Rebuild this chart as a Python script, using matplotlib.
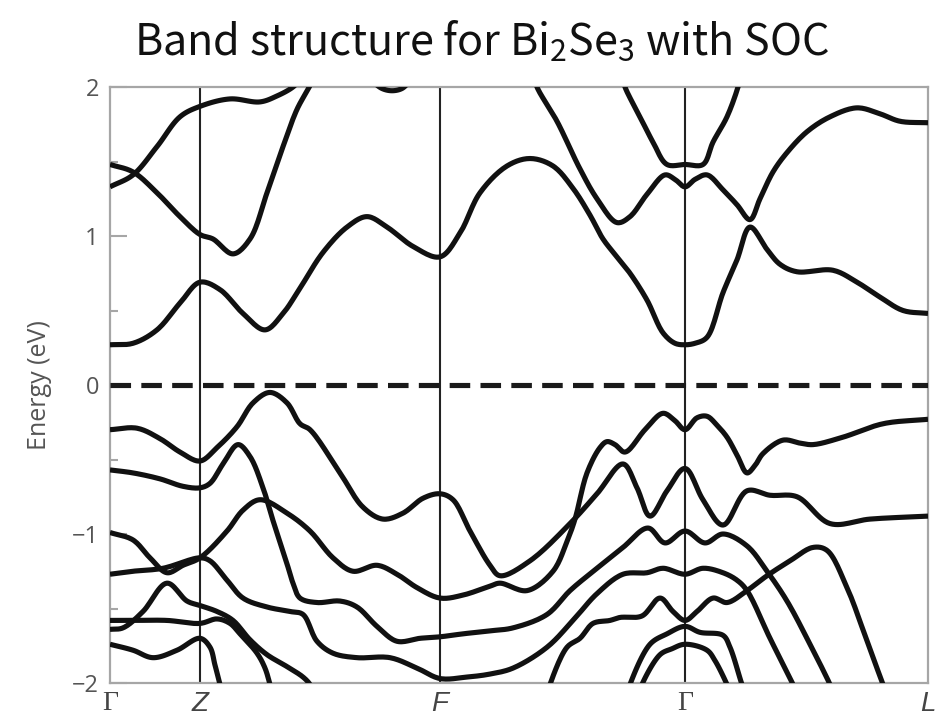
import numpy as np
import matplotlib
matplotlib.use("Agg")
import matplotlib.pyplot as plt

# ---------------- data (k along path, energy in eV) ----------------
kpoint_pos = [0.0, 0.9, 3.3, 5.75, 8.18]
kpoint_labels = ["Γ", "Z", "F", "Γ", "L"]
y_ticks = [-2, -1, 0, 1, 2]
y_tick_labels = ["−2", "−1", "0", "1", "2"]
y_minor = [-1.5, -0.5, 0.5, 1.5]

# conduction bands
c1 = [(0, 0.27), (0.23, 0.28), (0.47, 0.37), (0.70, 0.55), (0.90, 0.69), (1.10, 0.64), (1.33, 0.48),
      (1.55, 0.37), (1.73, 0.48), (1.90, 0.65), (2.13, 0.89), (2.37, 1.06), (2.57, 1.13), (2.77, 1.06),
      (3.03, 0.93), (3.30, 0.86), (3.50, 1.02), (3.70, 1.29), (3.97, 1.47), (4.20, 1.52), (4.43, 1.47),
      (4.63, 1.32), (4.80, 1.14), (4.93, 0.98), (5.07, 0.86), (5.20, 0.75), (5.37, 0.57), (5.53, 0.35),
      (5.65, 0.28), (5.75, 0.27), (5.85, 0.28), (5.97, 0.32), (6.13, 0.62), (6.27, 0.84), (6.40, 1.06),
      (6.57, 0.91), (6.70, 0.81), (6.87, 0.76), (7.23, 0.77), (7.47, 0.69), (7.70, 0.59), (7.93, 0.50),
      (8.18, 0.48)]
c2 = [(0, 1.48), (0.23, 1.43), (0.47, 1.29), (0.70, 1.13), (0.90, 1.01), (1.03, 0.98), (1.23, 0.88),
      (1.40, 0.98), (1.57, 1.29), (1.73, 1.60), (1.87, 1.85), (2.00, 2.01), (2.03, 2.06)]
c3 = [(0, 1.33), (0.23, 1.41), (0.47, 1.60), (0.70, 1.80), (0.90, 1.87), (1.20, 1.92), (1.50, 1.90),
      (1.67, 1.94), (1.83, 2.00), (1.90, 2.05)]
c4 = [(2.62, 2.04), (2.72, 1.99), (2.82, 1.975), (2.92, 1.99), (3.00, 2.04)]
c5 = [(4.25, 2.06), (4.27, 2.00), (4.47, 1.77), (4.70, 1.45), (4.87, 1.25), (5.07, 1.09), (5.20, 1.13),
      (5.37, 1.28), (5.55, 1.41), (5.65, 1.38), (5.75, 1.33), (5.85, 1.38), (5.97, 1.41), (6.13, 1.31),
      (6.27, 1.21), (6.40, 1.11), (6.50, 1.25), (6.63, 1.43), (6.77, 1.56), (6.97, 1.70), (7.20, 1.80),
      (7.47, 1.86), (7.70, 1.82), (7.90, 1.77), (8.18, 1.76)]
c6 = [(5.13, 2.06), (5.15, 2.00), (5.30, 1.80), (5.43, 1.63), (5.57, 1.48), (5.75, 1.48), (5.93, 1.48),
      (6.03, 1.63), (6.17, 1.80), (6.28, 2.00), (6.30, 2.06)]

# valence bands
v1 = [(0, -0.30), (0.27, -0.29), (0.50, -0.36), (0.70, -0.45), (0.90, -0.51), (1.07, -0.42), (1.27, -0.28),
      (1.43, -0.12), (1.60, -0.05), (1.77, -0.12), (1.90, -0.26), (2.00, -0.30), (2.30, -0.59), (2.53, -0.82),
      (2.73, -0.90), (2.93, -0.86), (3.13, -0.76), (3.30, -0.73), (3.43, -0.77), (3.60, -0.98), (3.80, -1.21),
      (3.90, -1.28), (4.20, -1.18), (4.60, -0.93), (4.87, -0.73), (5.13, -0.53), (5.27, -0.69), (5.40, -0.88),
      (5.57, -0.71), (5.75, -0.56), (5.93, -0.77), (6.13, -0.94), (6.37, -0.71), (6.60, -0.74), (6.87, -0.75),
      (7.20, -0.93), (7.60, -0.90), (8.18, -0.88)]
v2 = [(0, -0.57), (0.23, -0.59), (0.50, -0.63), (0.73, -0.68), (0.90, -0.69), (1.00, -0.66), (1.13, -0.53),
      (1.28, -0.40), (1.40, -0.48), (1.53, -0.69), (1.63, -0.91), (1.77, -1.20), (1.83, -1.33), (1.90, -1.43),
      (2.07, -1.46), (2.30, -1.45), (2.47, -1.49), (2.67, -1.62), (2.87, -1.72), (3.10, -1.70), (3.30, -1.69),
      (3.53, -1.67), (3.80, -1.65), (4.03, -1.63), (4.37, -1.54), (4.60, -1.38), (4.87, -1.23), (5.13, -1.09),
      (5.38, -0.96), (5.55, -1.06), (5.75, -0.98), (5.95, -1.06), (6.13, -1.00), (6.37, -1.08), (6.57, -1.25),
      (6.77, -1.45), (7.00, -1.74), (7.20, -2.01), (7.23, -2.06)]
v3 = [(0, -0.99), (0.23, -1.04), (0.40, -1.16), (0.57, -1.26), (0.73, -1.21), (0.90, -1.16), (1.17, -0.98),
      (1.33, -0.84), (1.50, -0.77), (1.77, -0.86), (2.00, -0.98), (2.23, -1.16), (2.43, -1.25), (2.67, -1.21),
      (2.87, -1.27), (3.07, -1.36), (3.30, -1.43), (3.53, -1.41), (3.80, -1.35), (3.90, -1.33), (4.17, -1.38),
      (4.43, -1.25), (4.57, -1.05), (4.65, -0.90), (4.77, -0.59), (4.90, -0.42), (4.97, -0.38), (5.05, -0.40),
      (5.15, -0.45), (5.35, -0.30), (5.53, -0.19), (5.65, -0.24), (5.75, -0.30), (5.87, -0.22), (5.97, -0.21),
      (6.07, -0.27), (6.17, -0.35), (6.27, -0.47), (6.37, -0.59), (6.45, -0.54), (6.53, -0.46), (6.73, -0.37),
      (6.90, -0.39), (7.03, -0.40), (7.33, -0.35), (7.73, -0.26), (8.18, -0.23)]
v4 = [(0, -1.27), (0.23, -1.25), (0.53, -1.23), (0.90, -1.16), (1.00, -1.18), (1.17, -1.31), (1.33, -1.43),
      (1.57, -1.49), (1.80, -1.52), (1.93, -1.54), (2.07, -1.72), (2.23, -1.80), (2.47, -1.83), (2.80, -1.83),
      (3.07, -1.90), (3.30, -1.97), (3.57, -1.96), (3.80, -1.94), (4.03, -1.90), (4.37, -1.76), (4.63, -1.58),
      (4.87, -1.40), (5.13, -1.27), (5.37, -1.26), (5.53, -1.23), (5.75, -1.27), (5.93, -1.23), (6.13, -1.26),
      (6.27, -1.31), (6.37, -1.38), (6.60, -1.70), (6.83, -2.01), (6.86, -2.06)]
v5 = [(0, -1.64), (0.13, -1.63), (0.33, -1.52), (0.57, -1.33), (0.77, -1.45), (0.90, -1.48), (1.07, -1.52),
      (1.23, -1.58), (1.40, -1.71), (1.57, -1.81), (1.77, -1.89), (1.93, -1.96), (2.00, -2.01), (2.03, -2.06)]
v6 = [(0, -1.58), (0.23, -1.58), (0.57, -1.58), (0.90, -1.60), (1.07, -1.57), (1.20, -1.60), (1.30, -1.67),
      (1.47, -1.80), (1.55, -1.90), (1.60, -2.01), (1.62, -2.06)]
v7 = [(0, -1.74), (0.23, -1.78), (0.43, -1.83), (0.67, -1.78), (0.90, -1.70), (1.00, -1.76), (1.05, -1.88),
      (1.10, -2.01), (1.12, -2.06)]
v8 = [(4.38, -2.06), (4.40, -2.01), (4.57, -1.76), (4.70, -1.70), (4.83, -1.60), (5.00, -1.58), (5.10, -1.56),
      (5.32, -1.55), (5.50, -1.43), (5.63, -1.52), (5.75, -1.58), (5.87, -1.52), (6.03, -1.43), (6.17, -1.46),
      (6.37, -1.38), (6.57, -1.28), (6.80, -1.18), (7.03, -1.09), (7.17, -1.11), (7.37, -1.36), (7.55, -1.68),
      (7.73, -2.01), (7.76, -2.06)]
v9 = [(5.18, -2.06), (5.20, -2.01), (5.40, -1.74), (5.57, -1.67), (5.75, -1.62), (5.90, -1.66), (6.13, -1.68),
      (6.20, -1.76), (6.32, -2.01), (6.35, -2.06)]
v10 = [(5.30, -2.06), (5.32, -2.01), (5.50, -1.81), (5.62, -1.77), (5.75, -1.74), (5.97, -1.78), (6.05, -1.85),
       (6.17, -2.01), (6.20, -2.06)]

bands = [c1, c2, c3, c4, c5, c6, v1, v2, v3, v4, v5, v6, v7, v8, v9, v10]


def smooth_curve(pts, n=14, alpha=0.5):
    """Centripetal Catmull-Rom rendering of a band through its read points."""
    sc = np.array([100.0, 148.5])
    P = np.asarray(pts, float) * sc
    P = np.vstack([2 * P[0] - P[1], P, 2 * P[-1] - P[-2]])
    out = []
    for i in range(len(P) - 3):
        p0, p1, p2, p3 = P[i:i + 4]
        t0 = 0.0
        t1 = t0 + np.linalg.norm(p1 - p0) ** alpha
        t2 = t1 + np.linalg.norm(p2 - p1) ** alpha
        t3 = t2 + np.linalg.norm(p3 - p2) ** alpha
        t = np.linspace(t1, t2, n, endpoint=False)[:, None]
        A1 = (t1 - t) / (t1 - t0) * p0 + (t - t0) / (t1 - t0) * p1
        A2 = (t2 - t) / (t2 - t1) * p1 + (t - t1) / (t2 - t1) * p2
        A3 = (t3 - t) / (t3 - t2) * p2 + (t - t2) / (t3 - t2) * p3
        B1 = (t2 - t) / (t2 - t0) * A1 + (t - t0) / (t2 - t0) * A2
        B2 = (t3 - t) / (t3 - t1) * A2 + (t - t1) / (t3 - t1) * A3
        out.append((t2 - t) / (t2 - t1) * B1 + (t - t1) / (t2 - t1) * B2)
    out.append(P[-2][None, :])
    Q = np.vstack(out) / sc
    return Q[:, 0], Q[:, 1]


fig = plt.figure(figsize=(9.51, 7.21), dpi=100)
ax = fig.add_axes([110 / 951, 38 / 721, 818 / 951, 596 / 721])

for b in bands:
    x, y = smooth_curve(b)
    ax.plot(x, y, color="#111111", lw=3.7, solid_capstyle="butt", solid_joinstyle="round", zorder=3)

for xv in kpoint_pos[1:-1]:
    ax.axvline(xv, color="#222222", lw=1.5, zorder=2)

ax.axhline(0, color="#1a1a1a", lw=3.7, dashes=(4.0, 2.0), dash_capstyle="butt", zorder=4)

ax.set_xlim(kpoint_pos[0], kpoint_pos[-1])
ax.set_ylim(-2.0, 2.0)

for s in ax.spines.values():
    s.set_color("#a6a6a6")
    s.set_linewidth(1.6)

ax.set_yticks(y_ticks)
ax.set_yticklabels(y_tick_labels)
ax.set_yticks(y_minor, minor=True)
ax.tick_params(axis="y", which="major", direction="in", length=12, width=1.5, color="#a6a6a6",
               labelsize=17, labelcolor="#555555", pad=8)
ax.tick_params(axis="y", which="minor", direction="in", length=6, width=1.5, color="#a6a6a6")
for lab in ax.get_yticklabels():
    lab.set_family("Open Sans")

ax.set_xticks(kpoint_pos)
ax.set_xticklabels(kpoint_labels)
ax.tick_params(axis="x", length=0, labelsize=20, labelcolor="#444444", pad=6)
for lab, txt in zip(ax.get_xticklabels(), kpoint_labels):
    if txt == "Γ":
        lab.set_family("Liberation Serif")
    else:
        lab.set_family("Liberation Sans")
        lab.set_style("italic")

ax.set_ylabel("Energy (eV)", fontsize=18, color="#555555", family="Open Sans", labelpad=14)

fig.text(482 / 951, 1 - 42 / 721, r"Band structure for Bi$_\mathregular{2}$Se$_\mathregular{3}$ with SOC",
         ha="center", va="center", fontsize=31, color="#111111", family="Noto Sans CJK SC",
         fontweight="light")

fig.savefig("out.png", dpi=100)
